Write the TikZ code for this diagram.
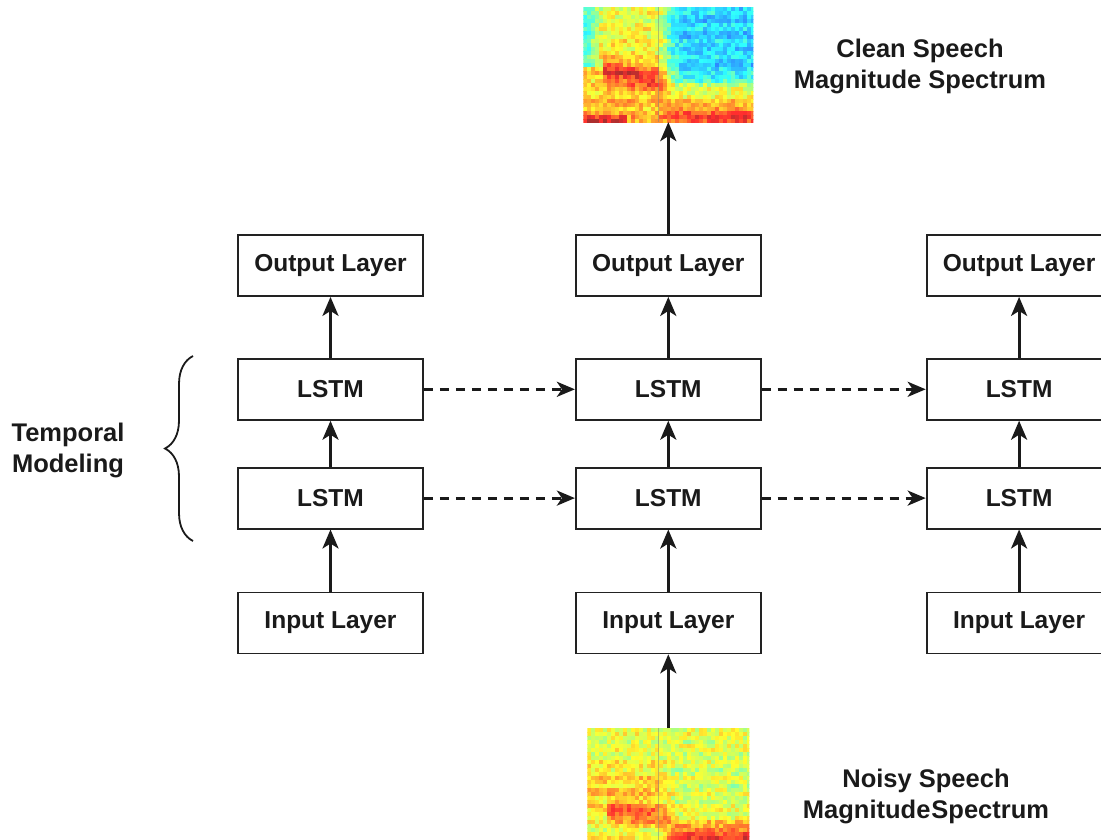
\documentclass[tikz,border=0pt]{standalone}
\usepackage{fontspec}
\setmainfont{Liberation Sans}
\usepackage{xcolor}
\definecolor{inkdark}{HTML}{1A1A1A}
\definecolor{boxline}{HTML}{222222}
\usetikzlibrary{positioning,arrows.meta,decorations.pathreplacing}

% spectrogram cells inside a named node: #1 node, #2 cols, #3 rows, #4 value function
\newcommand{\specgrid}[4]{%
  \begin{scope}
    \clip (#1.north west) rectangle (#1.south east);
    \begin{scope}[shift={(#1.north west)}]
      \foreach \i in {0,...,#2} {
        \foreach \j in {0,...,#3} {
          \pgfmathsetmacro\val{#4(\i/#2,\j/#3)+0.15*rnd-0.075+0.03*sin(\j*97)}
          \pgfmathsetmacro\cR{max(0,min(1,1.5-abs(4*\val-3)))}
          \pgfmathsetmacro\cG{max(0,min(1,1.5-abs(4*\val-2)))}
          \pgfmathsetmacro\cB{max(0,min(1,1.5-abs(4*\val-1)))}
          \definecolor{cellc}{rgb}{\cR,\cG,\cB}
          \fill[cellc!82!white] (\i*4,\j*4) rectangle ++(4.6,4.6);
        }
      }
    \end{scope}
  \end{scope}}

\begin{document}
\begin{tikzpicture}[
    x=1pt, y=-1pt,
    declare function={
      sg(\t)=1/(1+exp(min(9,max(-9,\t))));
      gs(\t)=exp(max(-9,-(\t)^2));
      lside(\x)=sg((\x-0.48)*40);
      cleanv(\x,\y)=lside(\x)*(0.6+0.12*\y
          +0.22*gs((\y-0.5-0.25*\x)/0.1)*(\x>0.1)
          -0.2*gs(\x/0.07)*(\y<0.5)
          +0.25*sg((0.93-\y)*60)*(\x<0.25))
        +(1-lside(\x))*(0.33+0.3*sg((0.64-\y)*30)
          +0.22*sg((0.84-\y)*30));
      noisyv(\x,\y)=0.6+lside(\x)*(0.08*gs((\y-0.5)/0.2)
          +0.2*gs((\y-0.66-0.15*\x)/0.08)*(\x>0.1)
          +0.25*sg((0.95-\y)*60)*(\x<0.2))
        -0.03*(1-lside(\x))*gs((\y-0.4)/0.25)
        +(1-lside(\x))*0.27*sg((0.8-\y)*30);
    },
    cell/.style={rectangle, draw=boxline, line width=1.8pt, fill=white,
                 minimum width=185pt, minimum height=61pt, inner sep=0pt,
                 font=\fontsize{24.5}{29}\selectfont\bfseries, text=inkdark},
    specbox/.style={rectangle, inner sep=0pt, outer sep=0pt, minimum width=170pt},
    lbl/.style={align=center, font=\fontsize{25.5}{31}\selectfont\bfseries, text=inkdark},
    flow/.style={-{Stealth[length=19pt,width=16pt,inset=5pt]}, line width=3pt, draw=inkdark},
    recur/.style={-{Stealth[length=18pt,width=15pt,inset=5pt]}, line width=3pt, draw=inkdark,
                  dash pattern=on 9pt off 7pt},
  ]
  \useasboundingbox (0,0) rectangle (1101,840);
  \clip (0,0) rectangle (1101,840);
  \pgfmathsetseed{11}

  % first column
  \node[cell] (outA) at (330.5,265.5) {Output Layer};
  \node[cell, below=61pt of outA] (lstmA1) {LSTM};
  \node[cell, below=46pt of lstmA1] (lstmA2) {LSTM};
  \node[cell, below=62pt of lstmA2] (inA) {Input Layer};
  % second column
  \node[cell, right=151pt of outA] (outB) {Output Layer};
  \node[cell, below=61pt of outB] (lstmB1) {LSTM};
  \node[cell, below=46pt of lstmB1] (lstmB2) {LSTM};
  \node[cell, below=62pt of lstmB2] (inB) {Input Layer};
  % third column
  \node[cell, right=164pt of outB] (outC) {Output Layer};
  \node[cell, below=61pt of outC] (lstmC1) {LSTM};
  \node[cell, below=46pt of lstmC1] (lstmC2) {LSTM};
  \node[cell, below=62pt of lstmC2] (inC) {Input Layer};

  % spectrograms
  \node[specbox, minimum height=115pt, above=112pt of outB] (clean) {};
  \node[specbox, minimum height=120pt, minimum width=162pt, below=74pt of inB] (noisy) {};
  \specgrid{clean}{43}{29}{cleanv}
  \specgrid{noisy}{41}{30}{noisyv}
  \draw[gray, opacity=0.5, line width=0.6pt] ([xshift=-10pt]clean.north) -- ([xshift=-10pt]clean.south);
  \draw[gray, opacity=0.5, line width=0.6pt] ([xshift=-10pt]noisy.north) -- ([xshift=-10pt]noisy.south);

  \node[lbl] (cleanlbl) at (920,66) {Clean Speech\\Magnitude Spectrum};
  \node[lbl] (noisylbl) at (926,796) {Noisy Speech\\Magnitude\hspace{1pt}Spectrum};
  \node[lbl] (temporal) at (68,450) {Temporal\\Modeling};

  \draw[decorate, decoration={brace, amplitude=28pt}, line width=1.8pt, draw=inkdark]
    (193,541) -- (193,356);

  \foreach \c in {A,B,C} {
    \draw[flow] (in\c) -- (lstm\c2);
    \draw[flow] (lstm\c2) -- (lstm\c1);
    \draw[flow] (lstm\c1) -- (out\c);
  }
  \draw[recur] (lstmA1) -- (lstmB1);
  \draw[recur] (lstmA2) -- (lstmB2);
  \draw[recur] (lstmB1) -- (lstmC1);
  \draw[recur] (lstmB2) -- (lstmC2);
  \draw[flow] (outB) -- (clean);
  \draw[flow] (noisy) -- (inB);
\end{tikzpicture}
\end{document}
